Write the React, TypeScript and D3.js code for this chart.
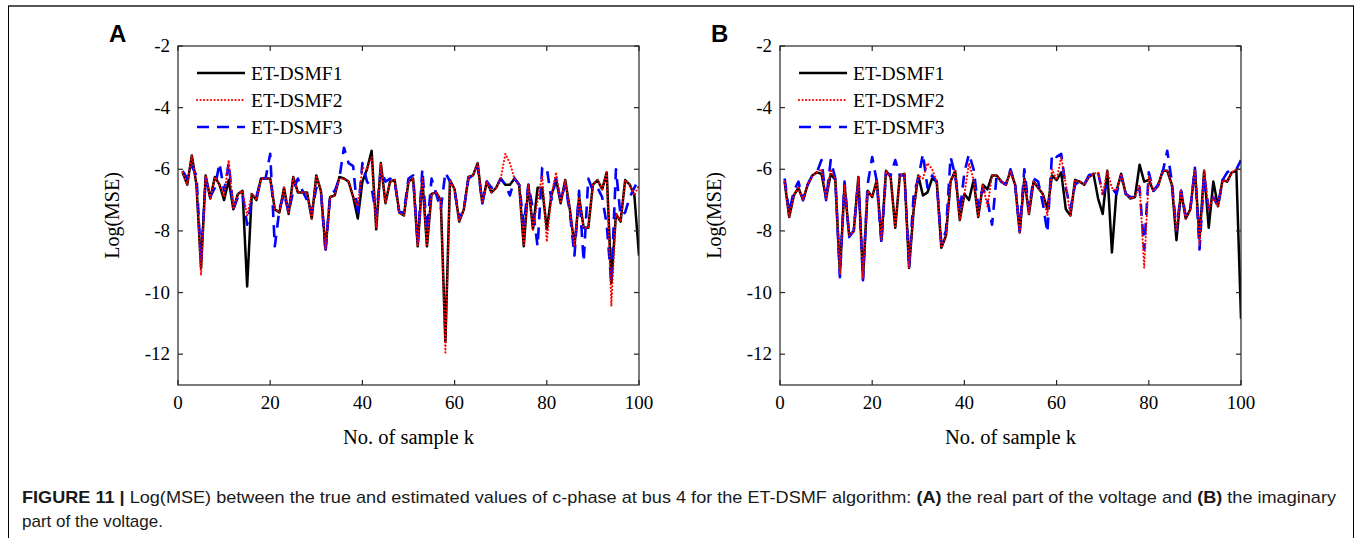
import React from "react";
import * as d3 from "d3";

const K: number[] = d3.range(1, 101);
const xTicks = [0, 20, 40, 60, 80, 100];
const yTicks = [-2, -4, -6, -8, -10, -12];
const seriesNames = ["ET-DSMF1", "ET-DSMF2", "ET-DSMF3"];

// Panel A (real part)
const A1 = [
  -6.1, -6.5, -5.55, -6.5, -9.2, -6.2, -6.95, -6.25, -6.5, -7.0,
  -6.35, -7.3, -6.8, -6.7, -9.8, -6.8, -7.0, -6.3, -6.3, -6.3,
  -7.3, -7.4, -6.6, -7.45, -6.25, -6.75, -6.75, -6.75, -7.6, -6.2,
  -6.7, -8.6, -6.9, -6.85, -6.25, -6.3, -6.4, -6.9, -7.6, -6.4,
  -6.0, -5.4, -7.95, -5.8, -7.1, -6.4, -6.35, -7.4, -7.5, -6.4,
  -6.3, -8.5, -6.3, -8.5, -6.8, -6.75, -7.0, -11.6, -6.35, -6.65,
  -7.7, -7.3, -6.25, -6.2, -5.8, -7.1, -6.4, -6.75, -6.6, -6.3,
  -6.5, -6.5, -6.3, -6.5, -8.5, -6.5, -7.95, -6.6, -6.6, -7.95,
  -6.85, -6.3, -7.1, -6.35, -7.3, -8.5, -6.9, -7.9, -7.9, -6.5,
  -6.35, -6.65, -6.1, -9.7, -7.45, -7.7, -6.35, -6.5, -6.85, -8.8,
];
const A2 = [
  -6.1, -6.5, -5.55, -6.5, -9.45, -6.2, -6.95, -6.25, -6.5, -6.9,
  -5.7, -7.3, -6.8, -6.7, -7.5, -6.8, -7.0, -6.3, -6.3, -6.3,
  -7.3, -7.4, -6.6, -7.45, -6.25, -6.75, -6.75, -6.75, -7.6, -6.2,
  -6.7, -8.6, -6.9, -6.85, -6.3, -6.3, -6.4, -6.9, -7.2, -5.95,
  -6.0, -5.6, -7.9, -5.8, -7.1, -6.4, -6.35, -7.4, -7.5, -6.4,
  -6.3, -8.5, -6.3, -8.5, -6.8, -6.75, -7.0, -11.95, -6.35, -6.65,
  -7.7, -7.3, -6.25, -6.2, -5.8, -7.1, -6.4, -6.75, -6.6, -6.3,
  -5.5, -5.8, -6.3, -6.5, -8.5, -6.5, -7.95, -7.0, -6.2, -8.35,
  -6.85, -6.1, -7.1, -6.35, -7.3, -8.5, -6.9, -7.9, -7.9, -6.5,
  -6.35, -6.65, -6.1, -10.45, -7.45, -7.7, -6.35, -6.5, -6.85, -6.5,
];
const A3 = [
  -6.05, -6.3, -5.9, -6.2, -9.0, -6.3, -6.9, -6.6, -5.8, -6.7,
  -5.8, -7.3, -6.9, -6.8, -7.8, -7.0, -6.9, -6.3, -6.3, -5.5,
  -8.5, -7.3, -6.8, -7.4, -6.7, -6.3, -6.7, -7.0, -7.4, -6.6,
  -6.7, -8.7, -6.8, -6.7, -6.3, -5.3, -5.8, -5.9, -7.5, -5.8,
  -6.4, -6.6, -7.5, -6.0, -6.4, -6.3, -6.4, -7.4, -7.4, -6.3,
  -6.2, -8.4, -6.0, -8.0, -6.3, -6.8, -7.3, -6.1, -6.4, -6.7,
  -7.6, -7.3, -6.3, -6.2, -5.9, -7.1, -6.4, -6.6, -6.6, -6.3,
  -6.5, -6.85, -6.3, -6.5, -7.8, -6.5, -7.3, -8.5, -5.95, -5.95,
  -7.0, -6.3, -7.0, -6.5, -7.4, -8.8, -6.7, -9.0, -6.3, -6.7,
  -6.6, -6.9, -7.8, -9.7, -6.0, -7.5, -7.4, -6.9, -6.6, -6.3,
];

// Panel B (imaginary part)
const B1 = [
  -6.4, -7.55, -6.85, -6.6, -7.0, -6.5, -6.2, -6.1, -6.15, -6.95,
  -6.15, -6.35, -9.4, -6.5, -8.15, -8.0, -6.25, -9.55, -6.7, -6.9,
  -6.35, -8.3, -6.05, -6.25, -7.9, -6.2, -6.15, -9.2, -7.3, -6.2,
  -6.85, -6.75, -6.3, -6.4, -8.55, -8.15, -6.4, -6.05, -7.65, -6.8,
  -7.0, -6.35, -7.55, -6.5, -6.65, -6.2, -6.2, -6.4, -6.5, -6.05,
  -6.5, -8.05, -6.3, -7.45, -6.4, -6.6, -6.8, -7.3, -6.2, -6.35,
  -6.1, -7.3, -7.5, -6.35, -6.4, -6.5, -6.25, -6.15, -6.95, -7.45,
  -6.05, -8.7, -6.7, -6.15, -6.8, -6.95, -6.9, -5.85, -6.4, -6.35,
  -6.7, -6.55, -6.05, -6.05, -6.5, -8.3, -6.7, -7.6, -7.3, -6.0,
  -8.25, -6.05, -7.9, -6.4, -7.2, -6.35, -6.4, -6.1, -6.05, -10.85,
];
const B2 = [
  -6.4, -7.55, -6.85, -6.6, -7.0, -6.5, -6.2, -6.1, -6.0, -6.95,
  -6.0, -6.35, -9.4, -6.5, -8.15, -8.0, -6.25, -9.55, -6.7, -6.9,
  -6.35, -8.3, -6.05, -6.25, -7.9, -6.2, -6.15, -9.2, -7.3, -6.2,
  -6.3, -5.8, -6.0, -6.4, -8.55, -8.15, -6.4, -6.05, -7.65, -6.8,
  -5.8, -6.35, -7.55, -6.5, -7.2, -6.2, -6.2, -6.4, -6.5, -6.05,
  -6.5, -8.05, -6.3, -7.45, -6.4, -6.6, -6.8, -7.5, -6.0, -6.35,
  -5.6, -6.5, -7.5, -6.35, -6.4, -6.5, -6.25, -6.15, -6.1, -6.8,
  -6.05, -6.6, -6.7, -6.15, -6.8, -6.95, -6.9, -6.5, -9.2, -6.2,
  -6.7, -6.55, -6.05, -6.05, -6.5, -8.0, -6.7, -7.6, -7.3, -6.0,
  -8.5, -6.0, -7.3, -6.9, -7.2, -6.35, -6.4, -6.1, -6.0, -6.0,
];
const B3 = [
  -6.3, -7.4, -6.7, -6.4, -7.0, -6.5, -6.2, -6.1, -5.7, -7.0,
  -5.7, -6.3, -9.5, -6.4, -8.2, -8.0, -6.3, -9.6, -6.5, -5.6,
  -6.4, -8.4, -6.1, -6.2, -5.7, -6.2, -6.2, -9.2, -6.8, -6.3,
  -5.5, -6.6, -6.2, -6.4, -8.4, -8.0, -5.6, -6.2, -7.4, -6.1,
  -5.5, -6.0, -7.2, -6.6, -7.0, -7.8, -6.2, -6.4, -6.5, -6.0,
  -6.5, -8.0, -6.0, -7.3, -6.3, -6.4, -7.1, -8.05, -5.5, -5.6,
  -5.5, -6.6, -7.3, -6.5, -6.4, -6.5, -6.2, -6.1, -6.1, -6.8,
  -6.5, -6.6, -6.8, -6.2, -6.8, -6.9, -6.9, -6.6, -8.6, -6.1,
  -6.7, -6.5, -6.1, -5.4, -6.4, -8.0, -6.7, -7.5, -7.3, -5.95,
  -8.6, -6.2, -7.3, -6.9, -7.2, -6.35, -6.1, -6.0, -6.0, -5.7,
];

const SERIF = "'Liberation Serif', 'Times New Roman', serif";
const SANS = "'Liberation Sans', Arial, Helvetica, sans-serif";
const NARROW = "'Liberation Sans Narrow', 'Arial Narrow', 'Liberation Sans', Arial, sans-serif";

const styles = [
  { stroke: "#000000", width: 2.5, dash: "none", cap: "butt" },
  { stroke: "#ff0000", width: 2.1, dash: "0.1 3.4", cap: "round" },
  { stroke: "#0000ff", width: 2.6, dash: "12 8", cap: "butt" },
];

type PanelProps = { x0: number; x1: number; letter: string; data: number[][] };

function Panel({ x0, x1, letter, data }: PanelProps) {
  const yTop = 46;
  const yBot = 385;
  const x = d3.scaleLinear().domain([0, 100]).range([x0, x1]);
  const y = d3.scaleLinear().domain([-13, -2]).range([yBot, yTop]);
  const line = d3
    .line<number>()
    .x((_, i) => x(K[i]))
    .y((d) => y(d));
  const clipId = "clip" + letter;
  const order = [0, 2, 1];
  const tl = 5;
  return (
    <g>
      <defs>
        <clipPath id={clipId}>
          <rect x={x0} y={yTop} width={x1 - x0} height={yBot - yTop} />
        </clipPath>
      </defs>
      <text x={x0 - 69} y={42} fontFamily={SANS} fontWeight="bold" fontSize={24} fill="#000">
        {letter}
      </text>
      <g clipPath={`url(#${clipId})`}>
        {order.map((si) => (
          <path
            key={si}
            d={line(data[si]) || ""}
            fill="none"
            stroke={styles[si].stroke}
            strokeWidth={styles[si].width}
            strokeDasharray={styles[si].dash}
            strokeLinejoin="round"
            strokeLinecap={styles[si].cap as any}
          />
        ))}
      </g>
      <rect x={x0} y={yTop} width={x1 - x0} height={yBot - yTop} fill="none" stroke="#262626" strokeWidth={1.2} />
      {xTicks.map((t) => (
        <g key={"x" + t}>
          <line x1={x(t)} x2={x(t)} y1={yBot} y2={yBot - tl} stroke="#262626" strokeWidth={1.2} />
          <line x1={x(t)} x2={x(t)} y1={yTop} y2={yTop + tl} stroke="#262626" strokeWidth={1.2} />
          <text x={x(t)} y={409} textAnchor="middle" fontFamily={SERIF} fontSize={19} fill="#000">
            {t}
          </text>
        </g>
      ))}
      {yTicks.map((t) => (
        <g key={"y" + t}>
          <line x1={x0} x2={x0 + tl} y1={y(t)} y2={y(t)} stroke="#262626" strokeWidth={1.2} />
          <line x1={x1} x2={x1 - tl} y1={y(t)} y2={y(t)} stroke="#262626" strokeWidth={1.2} />
          <text x={x0 - 8} y={y(t) + 6} textAnchor="end" fontFamily={SERIF} fontSize={19} fill="#000">
            {t}
          </text>
        </g>
      ))}
      <text
        transform={`translate(${x0 - 59},${(yTop + yBot) / 2}) rotate(-90)`}
        textAnchor="middle"
        fontFamily={SERIF}
        fontSize={20}
        fill="#000"
      >
        Log(MSE)
      </text>
      <text x={(x0 + x1) / 2} y={444} textAnchor="middle" fontFamily={SERIF} fontSize={20.5} fill="#000">
        No. of sample k
      </text>
      {seriesNames.map((name, i) => {
        const ly = 73 + i * 27;
        return (
          <g key={name}>
            <line
              x1={x0 + 19}
              x2={x0 + 67}
              y1={ly}
              y2={ly}
              stroke={styles[i].stroke}
              strokeWidth={styles[i].width}
              strokeDasharray={styles[i].dash}
              strokeLinecap={styles[i].cap as any}
            />
            <text x={x0 + 73} y={ly + 7} fontFamily={SERIF} fontSize={19.5} fill="#000">
              {name}
            </text>
          </g>
        );
      })}
    </g>
  );
}

export default function App() {
  return (
    <svg
      width={1356}
      height={538}
      style={{ position: "absolute", left: 0, top: 0, background: "#fff" }}
    >
      <rect x={0} y={0} width={1356} height={538} fill="#fff" />
      <line x1={8} x2={1354} y1={6} y2={6} stroke="#555" strokeWidth={2} />
      <line x1={8.5} x2={8.5} y1={6} y2={538} stroke="#000" strokeWidth={1} />
      <line x1={1353.5} x2={1353.5} y1={6} y2={538} stroke="#000" strokeWidth={1} />
      <Panel x0={178} x1={639} letter="A" data={[A1, A2, A3]} />
      <Panel x0={780} x1={1241} letter="B" data={[B1, B2, B3]} />
      <text x={22} y={503} fontFamily={NARROW} fontSize={17} fill="#1a1a1a" textLength={1314} lengthAdjust="spacingAndGlyphs">
        <tspan fontWeight="bold">FIGURE 11 | </tspan>
        <tspan>Log(MSE) between the true and estimated values of c-phase at bus 4 for the ET-DSMF algorithm: </tspan>
        <tspan fontWeight="bold">(A)</tspan>
        <tspan> the real part of the voltage and </tspan>
        <tspan fontWeight="bold">(B)</tspan>
        <tspan> the imaginary</tspan>
      </text>
      <text x={22} y={527} fontFamily={NARROW} fontSize={17} fill="#1a1a1a" textLength={141} lengthAdjust="spacingAndGlyphs">
        part of the voltage.
      </text>
    </svg>
  );
}
